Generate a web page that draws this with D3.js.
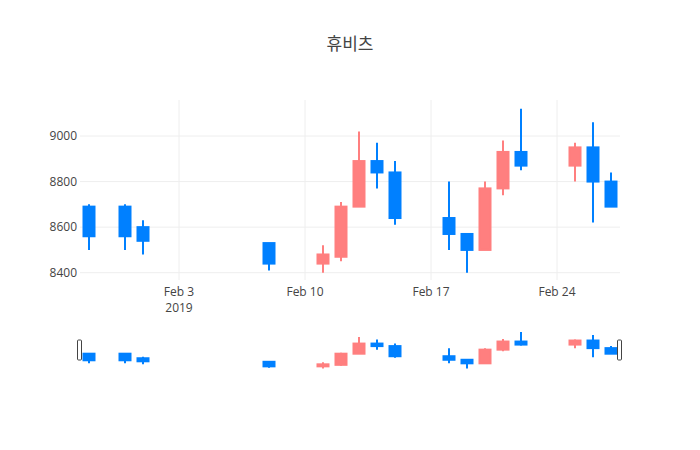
<!DOCTYPE html>
<html>
<head>
<meta charset="utf-8">
<script src="https://cdn.jsdelivr.net/npm/d3@7"></script>
<style>
  body { margin: 0; background: #fff; }
  text { font-family: "Open Sans", "Noto Sans CJK KR", sans-serif; }
</style>
</head>
<body>
<script>
const dates  = ["2019-01-29","2019-01-31","2019-02-01","2019-02-08","2019-02-11","2019-02-12","2019-02-13",
                "2019-02-14","2019-02-15","2019-02-18","2019-02-19","2019-02-20","2019-02-21","2019-02-22",
                "2019-02-25","2019-02-26","2019-02-27"];
const opens  = [8690, 8690, 8600, 8530, 8440, 8470, 8690, 8890, 8840, 8640, 8570, 8500, 8770, 8930, 8870, 8950, 8800];
const highs  = [8700, 8700, 8630, 8530, 8520, 8710, 9020, 8970, 8890, 8800, 8570, 8800, 8980, 9120, 8970, 9060, 8840];
const lows   = [8500, 8500, 8480, 8410, 8400, 8450, 8690, 8770, 8610, 8500, 8400, 8500, 8740, 8850, 8800, 8620, 8690];
const closes = [8560, 8560, 8540, 8440, 8480, 8690, 8890, 8840, 8640, 8570, 8500, 8770, 8930, 8870, 8950, 8800, 8690];

const yTicks = [8400, 8600, 8800, 9000];
const xTicks = ["2019-02-03","2019-02-10","2019-02-17","2019-02-24"];
const title = "휴비츠";

const width = 700, height = 450;
const left = 80, right = 620;
const plotTop = 100, plotBottom = 280;
const sliderTop = 330, sliderH = 40;

const incColor = "#ff7f7f";
const decColor = "#0080ff";

const parse = d3.utcParse("%Y-%m-%d");
const data = dates.map((d, i) => ({
  date: parse(d), open: opens[i], high: highs[i], low: lows[i], close: closes[i]
}));

const halfDay = 12 * 3600 * 1000;
const x = d3.scaleUtc()
  .domain([new Date(+data[0].date - halfDay), new Date(+data[data.length-1].date + halfDay)])
  .range([left, right]);

const yDomain = [8368, 9158];
const y = d3.scaleLinear().domain(yDomain).range([plotBottom, plotTop]);
const ySlider = d3.scaleLinear().domain(yDomain).range([sliderTop + sliderH, sliderTop]);

const svg = d3.select("body").append("svg")
  .attr("width", width).attr("height", height);

// title
svg.append("text")
  .attr("x", width / 2).attr("y", 50)
  .attr("text-anchor", "middle")
  .attr("font-size", 17).attr("fill", "#444")
  .text(title);

// grid
svg.append("g").selectAll("line.yg")
  .data(yTicks).enter().append("line")
  .attr("x1", left).attr("x2", right)
  .attr("y1", d => y(d)).attr("y2", d => y(d))
  .attr("stroke", "#eee").attr("stroke-width", 1);

svg.append("g").selectAll("line.xg")
  .data(xTicks.map(parse)).enter().append("line")
  .attr("x1", d => x(d)).attr("x2", d => x(d))
  .attr("y1", plotTop).attr("y2", plotBottom)
  .attr("stroke", "#eee").attr("stroke-width", 1);

// y labels
svg.append("g").selectAll("text")
  .data(yTicks).enter().append("text")
  .attr("x", left - 3).attr("y", d => y(d) + 4)
  .attr("text-anchor", "end")
  .attr("font-size", 12).attr("fill", "#444")
  .text(d => d);

// x labels
const fmt = d3.utcFormat("%b %-d");
const xl = svg.append("g").selectAll("text")
  .data(xTicks.map(parse)).enter().append("text")
  .attr("x", d => x(d)).attr("y", plotBottom + 16)
  .attr("text-anchor", "middle")
  .attr("font-size", 12).attr("fill", "#444");
xl.append("tspan").text(d => fmt(d));
xl.filter((d, i) => i === 0).append("tspan")
  .attr("x", d => x(d)).attr("dy", 15.6)
  .text(d => d.getUTCFullYear());

const boxW = 11;

function drawCandles(g, ys, lw) {
  const c = g.selectAll("g.candle").data(data).enter().append("g");
  c.append("line")
    .attr("x1", d => x(d.date)).attr("x2", d => x(d.date))
    .attr("y1", d => ys(d.high)).attr("y2", d => ys(d.low))
    .attr("stroke", d => d.close >= d.open ? incColor : decColor)
    .attr("stroke-width", lw);
  c.append("rect")
    .attr("x", d => x(d.date) - boxW / 2)
    .attr("width", boxW)
    .attr("y", d => ys(Math.max(d.open, d.close)))
    .attr("height", d => Math.max(0.5, Math.abs(ys(d.open) - ys(d.close))))
    .attr("fill", d => d.close >= d.open ? incColor : decColor)
    .attr("stroke", d => d.close >= d.open ? incColor : decColor)
    .attr("stroke-width", lw);
}

drawCandles(svg.append("g"), y, 2);

// range slider
const slider = svg.append("g");
slider.append("rect")
  .attr("x", left).attr("y", sliderTop)
  .attr("width", right - left).attr("height", sliderH)
  .attr("fill", "#fff");
drawCandles(slider.append("g"), ySlider, 2);

[left, right].forEach(px => {
  slider.append("rect")
    .attr("x", px - 2.5).attr("y", sliderTop + sliderH / 4)
    .attr("width", 4).attr("height", sliderH / 2)
    .attr("rx", 1).attr("ry", 1)
    .attr("fill", "#fff").attr("stroke", "#444").attr("stroke-width", 1);
});
</script>
</body>
</html>
